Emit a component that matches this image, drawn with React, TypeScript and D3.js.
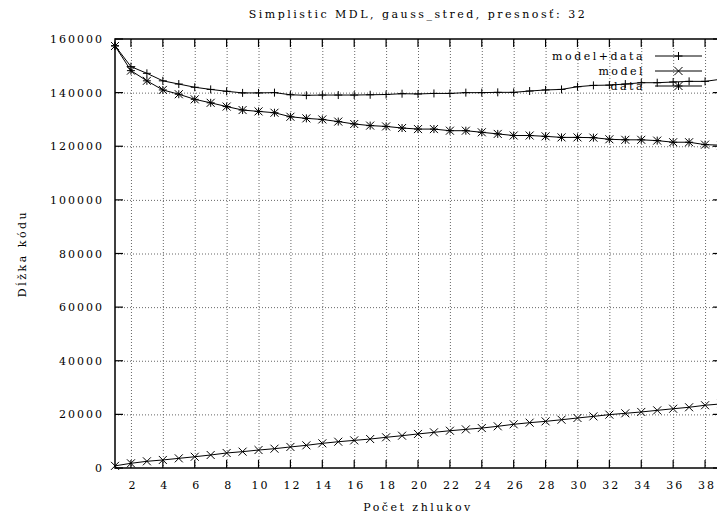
import React from "react";
import * as d3 from "d3";

// Number of clusters (x) and code lengths for each series
const clusters = [
  1, 2, 3, 4, 5, 6, 7, 8, 9, 10, 11, 12, 13, 14, 15, 16, 17, 18, 19, 20,
  21, 22, 23, 24, 25, 26, 27, 28, 29, 30, 31, 32, 33, 34, 35, 36, 37, 38, 39,
];
const modelPlusData = [
  157500, 149700, 147200, 144400, 143200, 142000, 141200, 140500, 139900, 139900,
  140000, 139200, 139000, 139100, 139100, 139100, 139200, 139300, 139600, 139500,
  139700, 139700, 140000, 140000, 140100, 140100, 140600, 141000, 141200, 142200,
  142700, 142800, 143200, 143700, 143700, 143960, 144200, 144200, 145000,
];
const modelOnly = [
  800, 1750, 2500, 3000, 3600, 4200, 4850, 5600, 6100, 6700,
  7200, 7850, 8450, 9200, 9800, 10300, 10800, 11450, 12050, 12700,
  13300, 13900, 14400, 14900, 15550, 16300, 16900, 17400, 18000, 18650,
  19250, 19900, 20400, 20900, 21500, 22100, 22650, 23400, 23900,
];
const dataOnly = [
  157400, 148200, 144400, 141000, 139400, 137500, 136200, 134800, 133500, 133000,
  132500, 131000, 130400, 130000, 129200, 128300, 127700, 127400, 126800, 126400,
  126400, 125800, 125800, 125200, 124600, 124000, 124000, 123700, 123300, 123300,
  123200, 122600, 122400, 122400, 122100, 121500, 121500, 120600, 120400,
];
const xTicks = [2, 4, 6, 8, 10, 12, 14, 16, 18, 20, 22, 24, 26, 28, 30, 32, 34, 36, 38];
const yTicks = [0, 20000, 40000, 60000, 80000, 100000, 120000, 140000, 160000];

const seriesNames = ["model+data", "model", "data"];
const markerKinds = ["plus", "cross", "star"];
const seriesValues = [modelPlusData, modelOnly, dataOnly];

const W = 717;
const H = 519;
const left = 115;
const right = 721;
const top = 39;
const bottom = 468;
const tickLen = 8;

const numberStyle: React.CSSProperties = {
  fontFamily: "DejaVu Serif",
  fontSize: 11,
  letterSpacing: 2,
};
const textStyle: React.CSSProperties = {
  fontFamily: "DejaVu Serif",
  fontSize: 11,
  letterSpacing: 2.5,
};

function markerPath(kind: string, r = 4): string {
  const plus = `M${-r},0H${r}M0,${-r}V${r}`;
  const cross = `M${-r},${-r}L${r},${r}M${-r},${r}L${r},${-r}`;
  if (kind === "plus") return plus;
  if (kind === "cross") return cross;
  return plus + cross;
}

export default function App() {
  const x = d3.scaleLinear().domain([1, 39]).range([left, right]);
  const y = d3.scaleLinear().domain([0, 160000]).range([bottom, top]);
  const line = d3
    .line<[number, number]>()
    .x((d) => x(d[0]))
    .y((d) => y(d[1]));

  const legendTextX = 643;
  const legendLine = [655, 702];
  const legendRows = [56, 71, 86];

  return (
    <div style={{ position: "fixed", left: 0, top: 0 }}>
      <svg width={W} height={H} style={{ display: "block", background: "#fff" }}>
        <defs>
          <clipPath id="plotClip">
            <rect x={left - 6} y={top - 6} width={right - left + 12} height={bottom - top + 12} />
          </clipPath>
        </defs>

        {/* grid */}
        <g stroke="#666" strokeWidth={1} strokeDasharray="1,2" fill="none">
          {xTicks.map((t) => (
            <line key={"gx" + t} x1={x(t) + 0.5} x2={x(t) + 0.5} y1={top} y2={bottom} />
          ))}
          {yTicks
            .filter((t) => t > 0 && t < 160000)
            .map((t) => (
              <line key={"gy" + t} x1={left} x2={right} y1={y(t) + 0.5} y2={y(t) + 0.5} />
            ))}
        </g>

        {/* border */}
        <rect
          x={left}
          y={top}
          width={right - left}
          height={bottom - top}
          fill="none"
          stroke="#000"
          strokeWidth={1.5}
        />

        {/* ticks */}
        <g stroke="#000" strokeWidth={1.2}>
          {xTicks.map((t) => (
            <g key={"tx" + t}>
              <line x1={x(t)} x2={x(t)} y1={bottom} y2={bottom - tickLen} />
              <line x1={x(t)} x2={x(t)} y1={top} y2={top + tickLen} />
            </g>
          ))}
          {yTicks.map((t) => (
            <g key={"ty" + t}>
              <line x1={left} x2={left + tickLen} y1={y(t)} y2={y(t)} />
              <line x1={right} x2={right - tickLen} y1={y(t)} y2={y(t)} />
            </g>
          ))}
        </g>

        {/* tick labels */}
        <g style={numberStyle} fill="#000">
          {xTicks.map((t) => (
            <text key={"lx" + t} x={x(t) + 2} y={489} textAnchor="middle">
              {t}
            </text>
          ))}
          {yTicks.map((t) => (
            <text key={"ly" + t} x={104} y={y(t) + 4} textAnchor="end">
              {t}
            </text>
          ))}
        </g>

        {/* series */}
        <g clipPath="url(#plotClip)">
          {seriesValues.map((vals, i) => {
            const pts = clusters.map((c, j) => [c, vals[j]] as [number, number]);
            return (
              <g key={"s" + i}>
                <path d={line(pts) ?? ""} fill="none" stroke="#000" strokeWidth={1} />
                {pts.map((p, j) => (
                  <path
                    key={j}
                    d={markerPath(markerKinds[i])}
                    transform={`translate(${x(p[0])},${y(p[1])})`}
                    fill="none"
                    stroke="#000"
                    strokeWidth={1}
                  />
                ))}
              </g>
            );
          })}
        </g>

        {/* legend */}
        <g style={textStyle} fill="#000">
          {seriesNames.map((name, i) => (
            <g key={"lg" + name}>
              <text x={legendTextX + 2} y={legendRows[i] + 4} textAnchor="end">
                {name}
              </text>
              <line
                x1={legendLine[0]}
                x2={legendLine[1]}
                y1={legendRows[i]}
                y2={legendRows[i]}
                stroke="#000"
                strokeWidth={1}
              />
              <path
                d={markerPath(markerKinds[i])}
                transform={`translate(${(legendLine[0] + legendLine[1]) / 2},${legendRows[i]})`}
                fill="none"
                stroke="#000"
                strokeWidth={1}
              />
            </g>
          ))}
        </g>

        {/* titles */}
        <g style={textStyle} fill="#000">
          <text x={(left + right) / 2} y={18} textAnchor="middle">
            Simplistic MDL, gauss_stred, presnosť: 32
          </text>
          <text x={(left + right) / 2} y={511} textAnchor="middle">
            Počet zhlukov
          </text>
          <text transform={`translate(26,${(top + bottom) / 2}) rotate(-90)`} textAnchor="middle">
            Dĺžka kódu
          </text>
        </g>
      </svg>
    </div>
  );
}
